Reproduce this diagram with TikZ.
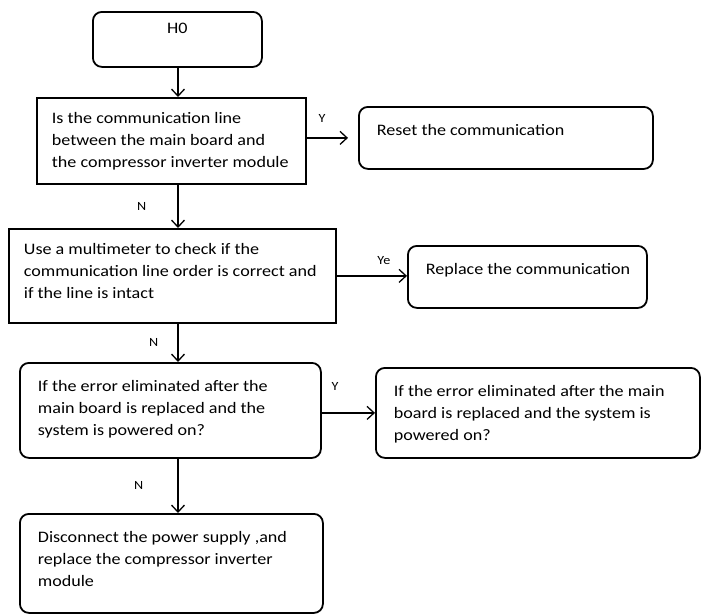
\documentclass[tikz,border=0pt]{standalone}
\usepackage{fontspec}
\setmainfont{Carlito}[FakeStretch=1.13]
\usetikzlibrary{arrows.meta,positioning}
\newcommand{\boxfont}{\fontsize{16}{22}\selectfont}
\newcommand{\cell}[3]{\parbox[t][#2][t]{#1}{\begin{tabular}[t]{@{}l@{}}#3\end{tabular}}}
\tikzset{
  sqbox/.style={draw, line width=1.8pt, anchor=north west, inner xsep=15pt,
                inner ysep=10pt, font=\boxfont},
  rdbox/.style={sqbox, rounded corners=9pt, inner xsep=18pt, inner ysep=13pt},
  arr/.style={-{Straight Barb[length=7pt,width=13pt]}, line width=1.3pt},
  lbl/.style={font=\fontsize{12.5}{15}\selectfont, inner sep=1pt},
}

\begin{document}
\begin{tikzpicture}[x=1pt, y=-1pt]
  \useasboundingbox (0,0) rectangle (702,614);
  % start
  \node[rdbox, inner ysep=6pt] (h0) at (92,11) {\parbox[t][43pt][t]{133pt}{\centering\strut H0}};
  % checks on the left, actions on the right
  \node[sqbox] (q1) at (36,97) {\cell{239pt}{66pt}{Is the communication line\\
      between the main board and\\ the compressor inverter module}};
  \node[rdbox] (r1) at (358,106) {\cell{258pt}{36pt}{Reset the communication}};
  \node[sqbox] (q2) at (8,228) {\cell{297pt}{74pt}{Use a multimeter to check if the\\
      communication line order is correct and\\ if the line is intact}};
  \node[rdbox] (r2) at (407,245) {\cell{203pt}{36pt}{Replace the communication}};
  \node[rdbox] (r3) at (19,362) {\cell{265pt}{69pt}{If the error eliminated after the\\
      main board is replaced and the\\ system is powered on?}};
  \node[rdbox] (r4) at (375,367) {\cell{288pt}{64pt}{If the error eliminated after the main\\
      board is replaced and the system is\\ powered on?}};
  \node[rdbox] (r5) at (19,513) {\cell{267pt}{73pt}{Disconnect the power supply ,and\\
      replace the compressor inverter\\ module}};

  \coordinate (spine) at (178,0);
  \draw[arr] (spine |- h0.south) -- (spine |- q1.north);
  \draw[arr] (spine |- q1.south) -- node[lbl, left=30pt] {N} (spine |- q2.north);
  \draw[arr] (spine |- q2.south) -- node[lbl, left=18pt] {N} (spine |- r3.north);
  \draw[arr] (spine |- r3.south) -- node[lbl, left=33pt] {N} (spine |- r5.north);

  \draw[arr, shorten >=10pt] (q1.east |- r1.west) -- node[lbl, pos=.3, above=13.5pt] {Y} (r1.west);
  \draw[arr] (q2.east) -- node[lbl, pos=.67, above=9.5pt] {Ye} (q2.east -| r2.west);
  \draw[arr] (r3.east |- r4.west) -- node[lbl, pos=.25, above=21pt] {Y} (r4.west);
\end{tikzpicture}
\end{document}
